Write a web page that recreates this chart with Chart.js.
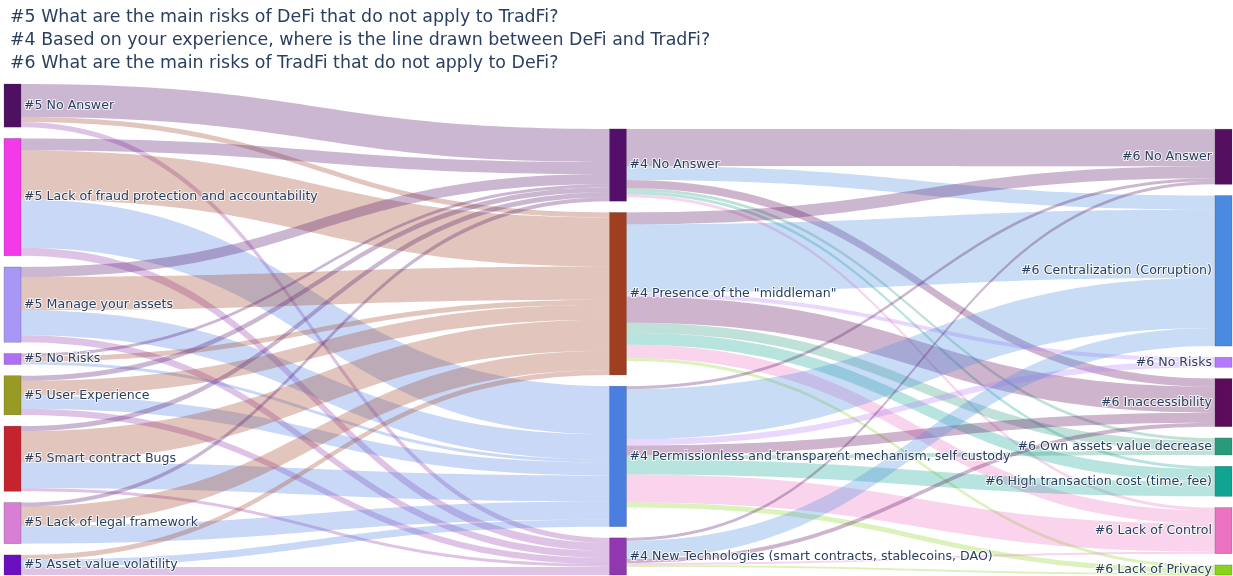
<!DOCTYPE html>
<html>
<head>
<meta charset="utf-8">
<script src="https://cdn.jsdelivr.net/npm/chart.js@4/dist/chart.umd.min.js"></script>
<style>
  html, body { margin: 0; padding: 0; background: #fff; }
  #wrap { width: 1233px; height: 576px; position: relative; }
</style>
</head>
<body>
<div id="wrap"><canvas id="chart"></canvas></div>
<script>
const titleLines = [
  "#5 What are the main risks of DeFi that do not apply to TradFi?",
  "#4 Based on your experience, where is the line drawn between DeFi and TradFi?",
  "#6 What are the main risks of TradFi that do not apply to DeFi?"
];

const leftNodes = [
  "#5 No Answer",
  "#5 Lack of fraud protection and accountability",
  "#5 Manage your assets",
  "#5 No Risks",
  "#5 User Experience",
  "#5 Smart contract Bugs",
  "#5 Lack of legal framework",
  "#5 Asset value volatility"
];
const middleNodes = [
  "#4 No Answer",
  "#4 Presence of the \"middleman\"",
  "#4 Permissionless and transparent mechanism, self custody",
  "#4 New Technologies (smart contracts, stablecoins, DAO)"
];
const rightNodes = [
  "#6 No Answer",
  "#6 Centralization (Corruption)",
  "#6 No Risks",
  "#6 Inaccessibility",
  "#6 Own assets value decrease",
  "#6 High transaction cost (time, fee)",
  "#6 Lack of Control",
  "#6 Lack of Privacy"
];

const leftColors = ["#4e1060", "#f43ae8", "#a897f7", "#b06ef5", "#999a23", "#c5232e", "#d67fd3", "#6a10c0"];
const middleColors = ["#540f6a", "#9e3f20", "#4a7fe0", "#9137b0"];
const rightColors = ["#540f60", "#4a8ae0", "#b57af7", "#5c0a5a", "#2a9a7c", "#10a592", "#ea72c0", "#88d41a"];

// links into the middle nodes / right nodes take the target's colour
const middleLinkColors = ["rgba(84,15,106,0.3)", "rgba(158,63,32,0.3)", "rgba(74,127,224,0.3)", "rgba(145,55,176,0.3)"];
const rightLinkColors = ["rgba(84,15,96,0.3)", "rgba(74,138,224,0.3)", "rgba(181,122,247,0.3)", "rgba(92,10,90,0.3)",
  "rgba(42,154,124,0.3)", "rgba(16,165,146,0.3)", "rgba(234,114,192,0.3)", "rgba(136,212,26,0.3)"];

// rows: #5 answers, columns: #4 answers
const leftToMiddle = [
  [33, 5, 0, 5],
  [12, 49, 48, 8],
  [10, 33, 25, 7],
  [3, 5, 3, 0],
  [5, 15, 13, 6],
  [5, 31, 26, 3],
  [4, 19, 18, 0],
  [0, 5, 7, 8]
];
// rows: #4 answers, columns: #6 answers
const middleToRight = [
  [37, 14, 0, 8, 3, 3, 3, 0],
  [12, 68, 4, 26, 10, 12, 13, 3],
  [3, 50, 6, 10, 4, 15, 28, 5],
  [3, 18, 0, 4, 0, 0, 2, 2]
];

const NODE_PAD = 11.2;
const NODE_W = 17;

function sum(a) { return a.reduce((s, v) => s + v, 0); }

const leftVals = leftToMiddle.map(r => sum(r));
const middleVals = middleNodes.map((_, j) =>
  Math.max(sum(leftToMiddle.map(r => r[j])), sum(middleToRight[j])));
const rightVals = rightNodes.map((_, k) => sum(middleToRight.map(r => r[k])));

const yMax = sum(leftVals) + (leftVals.length - 1) * NODE_PAD;

function stack(vals, fromBottom) {
  const total = sum(vals) + (vals.length - 1) * NODE_PAD;
  let y = fromBottom ? yMax - total : 0;
  return vals.map(v => { const n = { y0: y, y1: y + v, out: y, inn: y }; y += v + NODE_PAD; return n; });
}

const columns = [
  { names: leftNodes, colors: leftColors, nodes: stack(leftVals, false) },
  { names: middleNodes, colors: middleColors, nodes: stack(middleVals, true) },
  { names: rightNodes, colors: rightColors, nodes: stack(rightVals, true) }
];

const links = [];
function addLinks(matrix, sc, linkColors) {
  matrix.forEach((row, i) => row.forEach((v, j) => {
    if (!v) return;
    const s = columns[sc].nodes[i];
    links.push({ sc: sc, tc: sc + 1, i: i, j: j, v: v, sy: s.out, color: linkColors[j] });
    s.out += v;
  }));
  // incoming offsets ordered by source position
  for (let j = 0; j < matrix[0].length; j++) {
    for (let i = 0; i < matrix.length; i++) {
      const l = links.find(k => k.sc === sc && k.i === i && k.j === j);
      if (!l) continue;
      const t = columns[sc + 1].nodes[j];
      l.ty = t.inn;
      t.inn += l.v;
    }
  }
}
addLinks(leftToMiddle, 0, middleLinkColors);
addLinks(middleToRight, 1, rightLinkColors);

const sankeyPlugin = {
  id: "sankey",
  afterDatasetsDraw(chart) {
    const ctx = chart.ctx;
    const x = chart.scales.x, y = chart.scales.y;
    ctx.save();

    links.forEach(l => {
      const x0 = x.getPixelForValue(l.sc) + NODE_W;
      const x1 = x.getPixelForValue(l.tc);
      const a0 = y.getPixelForValue(l.sy), a1 = y.getPixelForValue(l.sy + l.v);
      const b0 = y.getPixelForValue(l.ty), b1 = y.getPixelForValue(l.ty + l.v);
      const xm = (x0 + x1) / 2;
      ctx.beginPath();
      ctx.moveTo(x0, a0);
      ctx.bezierCurveTo(xm, a0, xm, b0, x1, b0);
      ctx.lineTo(x1, b1);
      ctx.bezierCurveTo(xm, b1, xm, a1, x0, a1);
      ctx.closePath();
      ctx.fillStyle = l.color;
      ctx.fill();
    });

    columns.forEach((col, c) => {
      const px = x.getPixelForValue(c);
      col.nodes.forEach((n, i) => {
        const top = y.getPixelForValue(n.y0), bot = y.getPixelForValue(n.y1);
        ctx.fillStyle = col.colors[i];
        ctx.fillRect(px, top, NODE_W, bot - top);
        ctx.strokeStyle = "rgba(68,68,68,0.5)";
        ctx.lineWidth = 0.5;
        ctx.strokeRect(px, top, NODE_W, bot - top);
      });
    });

    ctx.font = "12.6px 'DejaVu Sans'";
    ctx.textBaseline = "middle";
    ctx.lineJoin = "round";
    columns.forEach((col, c) => {
      const px = x.getPixelForValue(c);
      const right = c === columns.length - 1;
      ctx.textAlign = right ? "right" : "left";
      col.nodes.forEach((n, i) => {
        const cy = (y.getPixelForValue(n.y0) + y.getPixelForValue(n.y1)) / 2;
        const tx = right ? px - 3 : px + NODE_W + 3;
        ctx.strokeStyle = "rgba(255,255,255,0.8)";
        ctx.lineWidth = 2;
        ctx.strokeText(col.names[i], tx, cy);
        ctx.fillStyle = "#2a3f5f";
        ctx.fillText(col.names[i], tx, cy);
      });
    });

    ctx.font = "17.4px 'DejaVu Sans'";
    ctx.textAlign = "left";
    ctx.fillStyle = "#2a3f5f";
    titleLines.forEach((t, k) => ctx.fillText(t, 10, 17 + k * 23));
    ctx.restore();
  }
};

new Chart(document.getElementById("chart"), {
  type: "scatter",
  data: { datasets: [{ data: [], pointRadius: 0 }] },
  options: {
    responsive: true,
    maintainAspectRatio: false,
    animation: false,
    layout: { padding: { top: 84, bottom: 1, left: 4, right: 18 } },
    plugins: { legend: { display: false }, tooltip: { enabled: false }, title: { display: false } },
    scales: {
      x: { type: "linear", min: 0, max: 2, display: false },
      y: { type: "linear", min: 0, max: yMax, reverse: true, display: false }
    }
  },
  plugins: [sankeyPlugin]
});
</script>
</body>
</html>
